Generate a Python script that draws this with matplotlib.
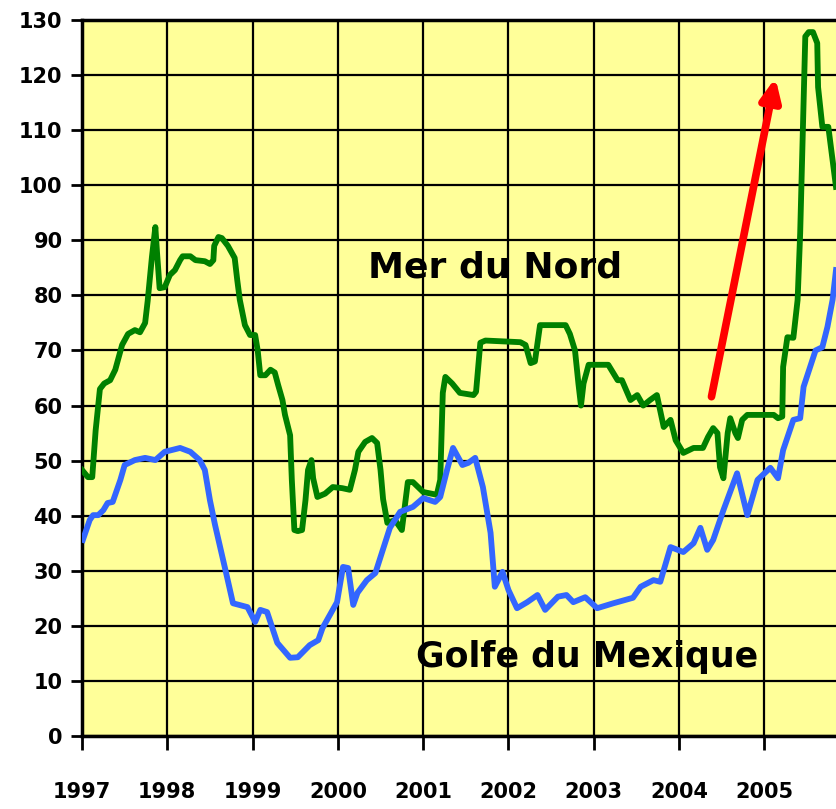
import matplotlib.pyplot as plt
import numpy as np

# Mer du Nord (green)
nord_t = [1997.00, 1997.07, 1997.12, 1997.16, 1997.21, 1997.26, 1997.33, 1997.39, 1997.47, 1997.54,
          1997.62, 1997.68, 1997.74, 1997.77, 1997.82, 1997.86, 1997.88, 1997.91, 1997.97, 1998.03,
          1998.09, 1998.15, 1998.18, 1998.27, 1998.33, 1998.44, 1998.50, 1998.54, 1998.55, 1998.60,
          1998.64, 1998.71, 1998.79, 1998.82, 1998.85, 1998.91, 1998.97, 1999.03, 1999.06, 1999.09,
          1999.15, 1999.21, 1999.26, 1999.30, 1999.35, 1999.38, 1999.44, 1999.46, 1999.49, 1999.53,
          1999.58, 1999.62, 1999.65, 1999.69, 1999.71, 1999.76, 1999.85, 1999.94, 2000.05, 2000.14,
          2000.20, 2000.24, 2000.32, 2000.40, 2000.46, 2000.50, 2000.53, 2000.58, 2000.67, 2000.75,
          2000.82, 2000.88, 2001.00, 2001.16, 2001.20, 2001.23, 2001.26, 2001.34, 2001.43, 2001.59,
          2001.62, 2001.67, 2001.73, 2002.14, 2002.20, 2002.26, 2002.31, 2002.37, 2002.67, 2002.72,
          2002.78, 2002.82, 2002.85, 2002.88, 2002.94, 2003.17, 2003.28, 2003.33, 2003.43, 2003.51,
          2003.58, 2003.66, 2003.74, 2003.82, 2003.90, 2003.96, 2004.05, 2004.17, 2004.28, 2004.34,
          2004.40, 2004.45, 2004.48, 2004.52, 2004.57, 2004.60, 2004.66, 2004.69, 2004.74, 2004.80,
          2005.11, 2005.16, 2005.21, 2005.22, 2005.27, 2005.34, 2005.39, 2005.42, 2005.45, 2005.48,
          2005.52, 2005.57, 2005.62, 2005.63, 2005.68, 2005.75, 2005.81, 2005.84]
nord_v = [48.3, 47.0, 47.0, 55.5, 63.0, 64.0, 64.6, 66.5, 71.0, 73.0,
          73.7, 73.3, 75.0, 79.0, 87.0, 92.4, 87.7, 81.3, 81.5, 83.7,
          84.6, 86.4, 87.1, 87.1, 86.4, 86.2, 85.7, 86.4, 89.0, 90.6,
          90.4, 89.0, 86.8, 82.8, 79.2, 74.6, 72.8, 72.8, 70.0, 65.5,
          65.5, 66.5, 66.0, 63.7, 61.0, 58.3, 54.6, 46.5, 37.4, 37.2,
          37.4, 42.8, 48.3, 50.1, 46.8, 43.4, 44.0, 45.2, 45.0, 44.7,
          48.3, 51.6, 53.4, 54.1, 53.2, 48.3, 43.0, 38.7, 39.2, 37.4,
          46.1, 46.1, 44.3, 43.8, 46.5, 62.3, 65.2, 64.0, 62.3, 61.9,
          62.5, 71.4, 71.8, 71.5, 71.0, 67.7, 68.0, 74.6, 74.6, 73.0,
          70.0, 64.0, 60.0, 64.0, 67.4, 67.4, 64.6, 64.6, 61.0, 61.9,
          60.0, 61.0, 61.9, 56.1, 57.4, 53.7, 51.4, 52.3, 52.3, 54.3,
          55.9, 55.0, 48.8, 46.8, 55.0, 57.7, 55.0, 54.1, 57.4, 58.3,
          58.3, 57.7, 58.0, 67.0, 72.4, 72.3, 79.2, 91.3, 109.5, 127.0,
          127.8, 127.8, 125.8, 117.8, 110.6, 110.6, 103.3, 99.7]

# Golfe du Mexique (blue)
golfe_t = [1997.01, 1997.09, 1997.13, 1997.19, 1997.25, 1997.30, 1997.36, 1997.45, 1997.50, 1997.62,
           1997.74, 1997.86, 1997.97, 1998.15, 1998.27, 1998.38, 1998.44, 1998.50, 1998.56, 1998.70,
           1998.77, 1998.94, 1999.03, 1999.09, 1999.17, 1999.29, 1999.44, 1999.53, 1999.67, 1999.77,
           1999.82, 1999.99, 2000.06, 2000.12, 2000.18, 2000.23, 2000.34, 2000.44, 2000.50, 2000.61,
           2000.73, 2000.88, 2001.00, 2001.14, 2001.20, 2001.28, 2001.35, 2001.46, 2001.53, 2001.61,
           2001.70, 2001.79, 2001.84, 2001.93, 2002.00, 2002.10, 2002.22, 2002.34, 2002.43, 2002.58,
           2002.68, 2002.76, 2002.90, 2003.04, 2003.23, 2003.46, 2003.55, 2003.70, 2003.78, 2003.90,
           2004.05, 2004.17, 2004.25, 2004.33, 2004.40, 2004.52, 2004.68, 2004.80, 2004.92, 2005.07,
           2005.16, 2005.22, 2005.34, 2005.42, 2005.46, 2005.60, 2005.68, 2005.74, 2005.80, 2005.84]
golfe_v = [35.6, 39.2, 40.1, 40.1, 41.0, 42.3, 42.5, 46.5, 49.2, 50.1,
           50.5, 50.1, 51.6, 52.3, 51.6, 50.1, 48.3, 42.8, 38.3, 28.9,
           24.1, 23.4, 20.7, 22.9, 22.5, 16.9, 14.2, 14.3, 16.5, 17.4,
           19.6, 24.3, 30.7, 30.5, 23.8, 26.0, 28.3, 29.6, 32.5, 37.8,
           40.7, 41.6, 43.2, 42.5, 43.4, 48.3, 52.3, 49.2, 49.6, 50.5,
           45.2, 36.9, 27.1, 29.8, 26.5, 23.2, 24.3, 25.6, 22.9, 25.3,
           25.6, 24.3, 25.2, 23.2, 24.1, 25.1, 27.1, 28.3, 28.0, 34.3,
           33.4, 35.0, 37.8, 33.8, 35.6, 41.0, 47.7, 40.1, 46.5, 48.7,
           46.8, 51.9, 57.4, 57.7, 63.4, 70.0, 70.6, 74.3, 79.2, 84.6]

years = [1997, 1998, 1999, 2000, 2001, 2002, 2003, 2004, 2005]
yticks = list(range(0, 131, 10))

fig = plt.figure(figsize=(8.36, 8.09), dpi=100)
ax = fig.add_axes([82 / 836, 1 - 736 / 809, 1 - 82 / 836, 716 / 809])
ax.set_facecolor('#FFFF99')

ax.plot(nord_t, nord_v, color='#008000', lw=4.2, solid_joinstyle='round', zorder=3)
ax.plot(golfe_t, golfe_v, color='#3366FF', lw=4.2, solid_joinstyle='round', zorder=3)

# red arrow
ax.annotate('', xy=(2005.13, 119.5), xytext=(2004.38, 61.6),
            arrowprops=dict(arrowstyle='-|>,head_length=1.3,head_width=0.6',
                            color='#FF0000', lw=5.5, shrinkA=0, shrinkB=0),
            zorder=4)

ax.text(2001.84, 85.0, 'Mer du Nord', fontsize=26, fontweight='bold',
        ha='center', va='center')
ax.text(2002.92, 14.3, 'Golfe du Mexique', fontsize=25, fontweight='bold',
        ha='center', va='center')

ax.set_xlim(1997, 2005.84)
ax.set_ylim(0, 130)
ax.set_xticks(years)
ax.set_xticklabels([str(y) for y in years])
ax.set_yticks(yticks)
ax.grid(True, color='black', lw=1.6, zorder=1)
ax.set_axisbelow(True)

for side in ['left', 'top', 'bottom']:
    ax.spines[side].set_linewidth(2.5)
ax.spines['right'].set_visible(False)

ax.tick_params(axis='y', length=8, width=2, pad=6, labelsize=15)
ax.tick_params(axis='x', length=10, width=2, pad=23, labelsize=15)
for lab in ax.get_xticklabels() + ax.get_yticklabels():
    lab.set_fontweight('bold')

plt.savefig('out.png', dpi=100)
